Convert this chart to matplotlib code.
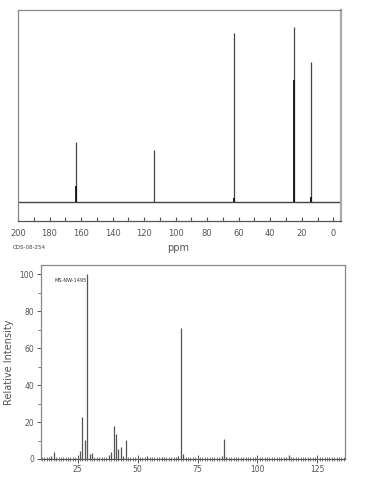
import matplotlib
matplotlib.use("Agg")
import matplotlib.pyplot as plt
from matplotlib.ticker import MultipleLocator, FixedLocator
import numpy as np

# ---- 13C NMR data (ppm, relative height) ----
c13_ppm = [162.9, 113.5, 62.8, 24.8, 13.9]
c13_height = [34.5, 29.9, 96.4, 100.0, 79.8]
# overlapping inner lines (drawn darker)
c13_sub_ppm = [162.9, 62.8, 24.8, 13.9]
c13_sub_height = [9.1, 2.1, 69.5, 2.7]
nmr_ticks = [200, 180, 160, 140, 120, 100, 80, 60, 40, 20, 0]

# ---- Mass spectrum data (m/z, relative intensity) ----
ms_mz = [12, 13, 14, 15, 26, 27, 28, 29, 30, 31, 38, 39, 40, 41, 42, 43, 44, 45,
         53, 54, 55, 56, 60, 61, 66, 67, 68, 69, 70, 85, 86, 87, 112, 113]
ms_int = [0.7, 0.8, 1.8, 4.0, 4.3, 22.7, 10.3, 100.0, 2.5, 3.4, 2.2, 3.8, 17.9, 13.4,
          5.2, 6.5, 1.8, 10.1, 0.7, 1.6, 0.7, 0.6, 1.3, 0.6, 0.6, 1.8, 71.0, 2.7, 0.6,
          1.5, 10.8, 1.0, 0.6, 2.3]
ms_xticks = [25, 50, 75, 100, 125]
ms_yticks = [0, 20, 40, 60, 80, 100]

W, H = 365, 482
fig = plt.figure(figsize=(W / 100, H / 100), dpi=100)
fig.patch.set_facecolor("white")

frame_c = "#888888"
text_c = "#555555"

# ================= Top: 13C NMR =================
ax1 = fig.add_axes([18 / W, 1 - 221 / H, (341 - 18) / W, (221 - 10) / H])
ax1.set_xlim(200, -4.9)
ax1.set_ylim(-10.86, 109.7)
ax1.axhline(0, color="#444444", lw=1.0)
ax1.vlines(c13_ppm, 0, c13_height, color="#444444", lw=0.9)
ax1.vlines(c13_sub_ppm, 0, c13_sub_height, color="#111111", lw=1.3)
ax1.set_yticks([])
ax1.xaxis.set_major_locator(FixedLocator(nmr_ticks))
ax1.xaxis.set_minor_locator(MultipleLocator(10))
ax1.tick_params(axis="x", which="both", direction="in", length=3, width=0.8,
                color="#555555", labelsize=6, labelcolor=text_c, pad=6)
for s in ax1.spines.values():
    s.set_color(frame_c)
    s.set_linewidth(0.9)
ax1.spines["bottom"].set_color("#555555")
ax1.spines["right"].set_linewidth(1.6)
ax1.spines["right"].set_color("#aaaaaa")

fig.text(178 / W, 1 - 248 / H, "ppm", ha="center", va="center", fontsize=7, color=text_c)
fig.text(13 / W, 1 - 248 / H, "CDS-08-254", ha="left", va="center", fontsize=4, color="#444444")

# ================= Bottom: Mass spectrum =================
ax2 = fig.add_axes([41 / W, 1 - 459 / H, (345 - 41) / W, (459 - 265) / H])
ax2.set_xlim(9.7, 136.5)
ax2.set_ylim(0, 105)
ax2.vlines(ms_mz, 0, ms_int, color="#555555", lw=0.9)
ax2.xaxis.set_major_locator(FixedLocator(ms_xticks))
ax2.xaxis.set_minor_locator(MultipleLocator(1))
ax2.yaxis.set_major_locator(FixedLocator(ms_yticks))
ax2.yaxis.set_minor_locator(MultipleLocator(10))
ax2.tick_params(axis="x", which="major", direction="inout", length=6, width=0.7,
                color="#555555", labelsize=5.5, labelcolor=text_c, pad=1)
ax2.tick_params(axis="x", which="minor", direction="inout", length=3, width=0.6,
                color="#666666")
ax2.tick_params(axis="y", which="major", direction="out", length=3, width=0.7,
                color="#555555", labelsize=5.5, labelcolor=text_c, pad=2)
ax2.tick_params(axis="y", which="minor", direction="out", length=2, width=0.6,
                color="#666666")
for s in ax2.spines.values():
    s.set_color(frame_c)
    s.set_linewidth(0.9)
ax2.spines["bottom"].set_color("#555555")
ax2.set_ylabel("Relative Intensity", fontsize=7, color=text_c, labelpad=4)
ax2.text(0.043, 0.919, "MS-NW-1495", transform=ax2.transAxes, fontsize=3.6,
         color="#333333", ha="left", va="center")

fig.savefig("out.png", dpi=100)
